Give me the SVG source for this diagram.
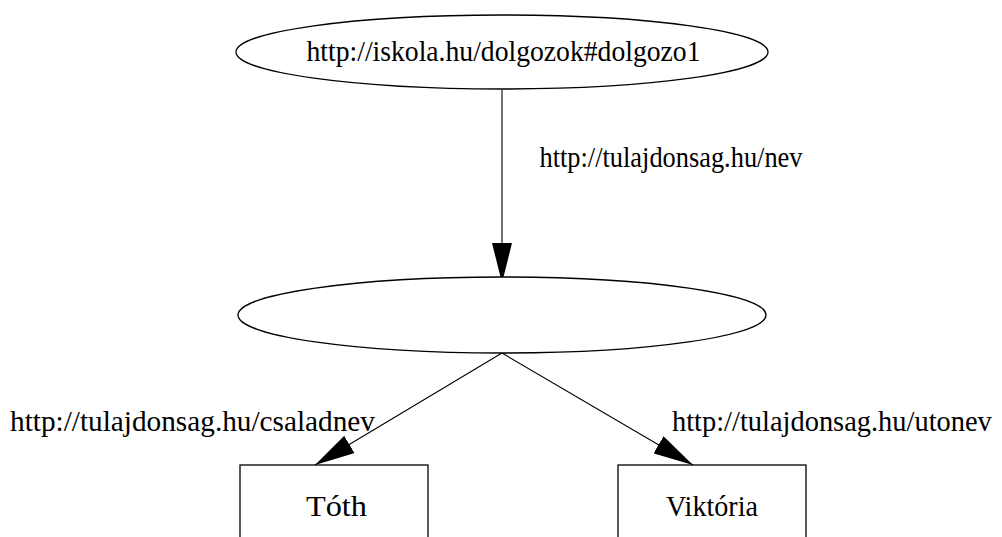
<svg xmlns="http://www.w3.org/2000/svg" width="1002" height="537" viewBox="0 0 1002 537">
<style>
.n{fill:#fff;stroke:#000;stroke-width:1.3}
.e{stroke:#000;stroke-width:1.1;fill:none}
.t{font-family:"Liberation Serif","Times New Roman",serif;font-size:30px;fill:#000}
</style>
<defs>
<marker id="ah" viewBox="0 0 40 20" refX="40" refY="10" markerWidth="40" markerHeight="20" markerUnits="userSpaceOnUse" orient="auto"><path d="M0,0 L40,10 L0,20 Z" fill="#000"/></marker>
</defs>
<rect width="1002" height="537" fill="#fff"/>
<g id="connectors">
<line class="e" x1="502" y1="90" x2="502" y2="283" marker-end="url(#ah)"/>
<line class="e" x1="502" y1="353" x2="315" y2="465" marker-end="url(#ah)"/>
<line class="e" x1="502" y1="353" x2="693" y2="465" marker-end="url(#ah)"/>
<text class="t" x="539.5" y="167" textLength="263" lengthAdjust="spacingAndGlyphs">http://tulajdonsag.hu/nev</text>
<text class="t" x="10" y="431" textLength="365" lengthAdjust="spacingAndGlyphs">http://tulajdonsag.hu/csaladnev</text>
<text class="t" transform="translate(672,431) scale(0.948,1)" x="0" y="0">http://tulajdonsag.hu/utonev</text>
</g>
<g id="node1">
<ellipse class="n" cx="502" cy="52" rx="266" ry="37"/>
<text class="t" x="306.5" y="61" textLength="394" lengthAdjust="spacingAndGlyphs">http://iskola.hu/dolgozok#dolgozo1</text>
</g>
<g id="node2">
<ellipse class="n" cx="502" cy="315" rx="264" ry="38"/>
</g>
<g id="node3">
<rect class="n" x="240" y="465" width="188" height="90"/>
<text class="t" x="306" y="516" textLength="61" lengthAdjust="spacingAndGlyphs">Tóth</text>
</g>
<g id="node4">
<rect class="n" x="618" y="465" width="188" height="90"/>
<text class="t" x="666" y="516" textLength="92" lengthAdjust="spacingAndGlyphs">Viktória</text>
</g>
</svg>
